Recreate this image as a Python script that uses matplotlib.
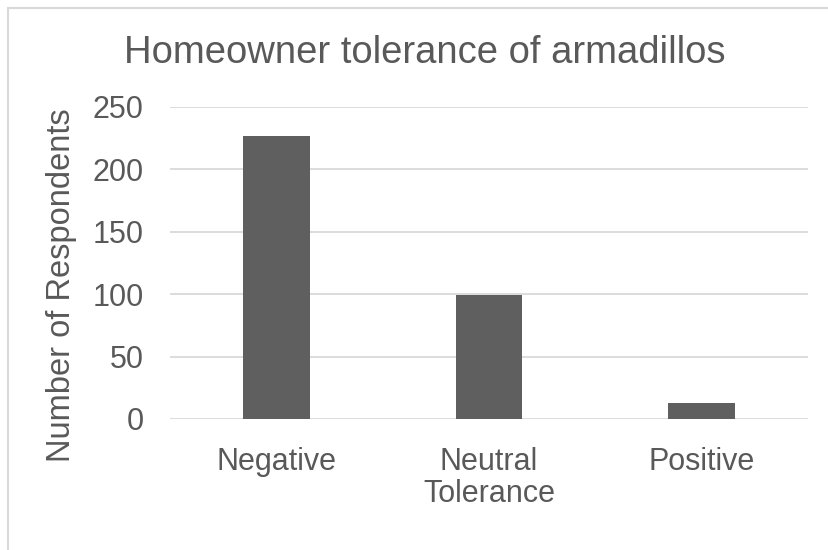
import matplotlib
matplotlib.use("Agg")
import matplotlib.pyplot as plt
from matplotlib.patches import Rectangle

# ---------------------- Data ----------------------
categories = ["Negative", "Neutral\nTolerance", "Positive"]
respondents = [227, 99, 13]
yticks = [0, 50, 100, 150, 200, 250]

TEXT = "#595959"
BAR = "#5f5f5f"
GRID = "#d9d9d9"

plt.rcParams["font.family"] = ["Liberation Sans", "DejaVu Sans"]

fig = plt.figure(figsize=(8.29, 5.5), dpi=100)
W, H = 829, 550

# chart frame (Excel-style light border)
fig.patches.append(Rectangle((8 / W, -0.1), 1.1, 1 - 8 / H + 0.1,
                             transform=fig.transFigure, fill=False,
                             edgecolor=GRID, linewidth=1.5))

ax = fig.add_axes([170 / W, 1 - 419 / H, (808 - 170) / W, (419 - 107) / H])
x = range(len(categories))
ax.bar(x, respondents, width=0.315, color=BAR, zorder=3)

ax.set_xlim(-0.5, len(categories) - 0.5)
ax.set_ylim(0, 250)
ax.set_yticks(yticks)
ax.set_xticks(list(x))
ax.set_xticklabels(categories, fontsize=22, color=TEXT, linespacing=1.08)
ax.tick_params(axis="x", length=0, pad=20)
ax.tick_params(axis="y", length=0, pad=19, labelsize=22, labelcolor=TEXT)
ax.yaxis.grid(True, color=GRID, linewidth=1.3, zorder=0)
for s in ax.spines.values():
    s.set_visible(False)

fig.text(425 / W, 1 - 63 / H, "Homeowner tolerance of armadillos",
         ha="center", va="baseline", fontsize=27.5, color=TEXT)
fig.text(62 / W, 1 - 285 / H, "Number of Respondents", rotation=90,
         ha="center", va="center", fontsize=23.5, color=TEXT)

fig.savefig("out.png", dpi=100)
